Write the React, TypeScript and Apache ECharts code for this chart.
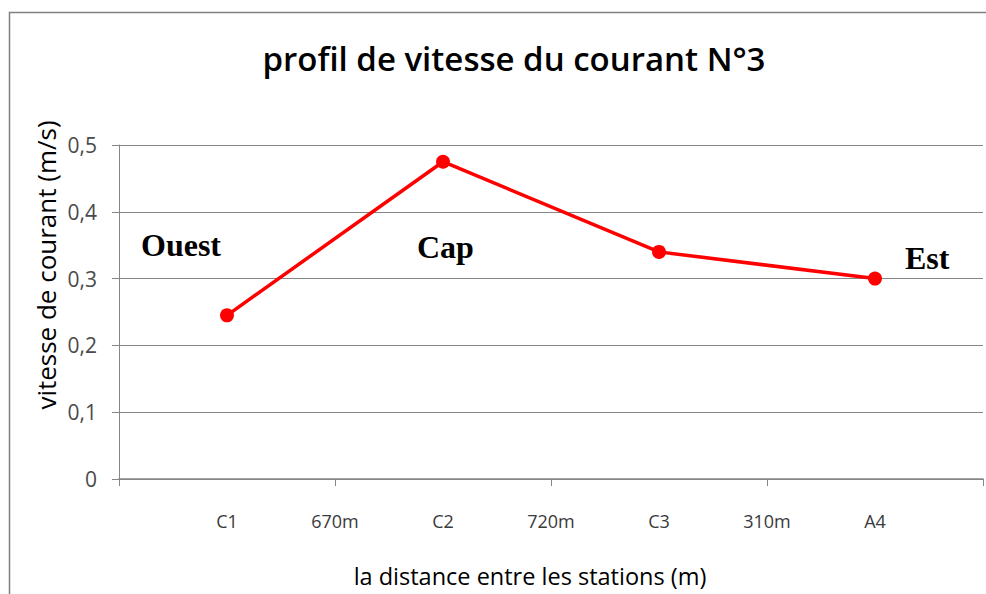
import React, { useEffect, useRef } from "react";
import * as echarts from "echarts";

const categories = ["", "C1", "670m", "C2", "720m", "C3", "310m", "A4", ""];
const speeds: (number | null)[] = [null, 0.245, null, 0.475, null, 0.34, null, 0.3, null];
const chartTitle = "profil de vitesse du courant N°3";
const yTitle = "vitesse de courant (m/s)";
const xTitle = "la distance entre les stations (m)";
const zoneNames = ["Ouest", "Cap", "Est"];

export default function App() {
  const ref = useRef<HTMLDivElement>(null);
  useEffect(() => {
    if (!ref.current) return;
    const chart = echarts.init(ref.current, undefined, { renderer: "svg" });
    const gray = "#868686";
    const zonePos = [
      { x: 141, y: 245 },
      { x: 417, y: 247 },
      { x: 905, y: 258 },
    ];
    chart.setOption({
      animation: false,
      backgroundColor: "#ffffff",
      grid: { left: 119, right: 3, top: 145, bottom: 115, containLabel: false },
      xAxis: {
        type: "category",
        data: categories,
        boundaryGap: false,
        axisLine: { show: true, lineStyle: { color: gray, width: 1.5 } },
        axisTick: { show: true, interval: 1, length: 7, lineStyle: { color: gray } },
        axisLabel: {
          interval: 0,
          margin: 33,
          fontSize: 18,
          color: "#3a3a3a",
          fontFamily: "Open Sans",
        },
        splitLine: { show: false },
      },
      yAxis: {
        type: "value",
        min: 0,
        max: 0.5,
        interval: 0.1,
        axisLine: { show: true, lineStyle: { color: gray, width: 1 } },
        axisTick: { show: true, length: 7, lineStyle: { color: gray } },
        axisLabel: {
          margin: 22,
          fontSize: 21,
          color: "#4a4a4a",
          fontFamily: "Open Sans",
          formatter: (v: number) => String(Math.round(v * 10) / 10).replace(".", ","),
        },
        splitLine: { show: true, lineStyle: { color: gray, width: 1 } },
      },
      series: [
        {
          type: "line",
          data: speeds,
          connectNulls: true,
          symbol: "circle",
          symbolSize: 14,
          lineStyle: { color: "#ff0000", width: 3.5 },
          itemStyle: { color: "#ff0000" },
        },
      ],
      graphic: [
        {
          type: "rect",
          shape: { x: 9.5, y: 12.5, width: 1000, height: 1000 },
          style: { fill: "none", stroke: "#808080", lineWidth: 1.5 },
          silent: true,
        },
        {
          type: "text",
          x: 514,
          y: 58,
          style: {
            text: chartTitle,
            fontSize: 33,
            fontWeight: 600,
            fontFamily: "Open Sans",
            fill: "#000",
            textAlign: "center",
            textVerticalAlign: "middle",
          },
        },
        {
          type: "text",
          x: 46,
          y: 265,
          rotation: Math.PI / 2,
          style: {
            text: yTitle,
            fontSize: 26,
            fontFamily: "Open Sans",
            fill: "#000",
            textAlign: "center",
            textVerticalAlign: "middle",
          },
        },
        {
          type: "text",
          x: 530,
          y: 576,
          style: {
            text: xTitle,
            fontSize: 23.5,
            fontFamily: "Open Sans",
            fill: "#000",
            textAlign: "center",
            textVerticalAlign: "middle",
          },
        },
        ...zoneNames.map((n, i) => ({
          type: "text",
          x: zonePos[i].x,
          y: zonePos[i].y,
          style: {
            text: n,
            fontSize: 32,
            fontWeight: "bold",
            fontFamily: "Liberation Serif",
            fill: "#000",
            textAlign: "left",
            textVerticalAlign: "middle",
          },
        })),
      ],
    });
    return () => chart.dispose();
  }, []);
  return (
    <div
      ref={ref}
      style={{ position: "fixed", left: 0, top: 0, width: 986, height: 594 }}
    />
  );
}
